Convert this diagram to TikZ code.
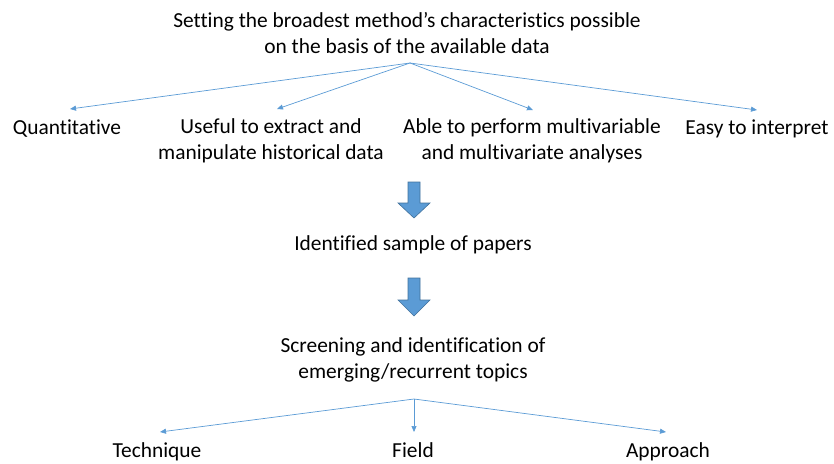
\documentclass[tikz,border=0pt]{standalone}
\usepackage{fontspec}
\setmainfont[Ligatures=NoCommon]{Carlito}
\usetikzlibrary{arrows.meta}
\definecolor{linkblue}{HTML}{5B9BD5}
\definecolor{blockedge}{HTML}{41719C}
\tikzset{
  lbl/.style={inner sep=0pt, align=center, font=\fontsize{21.4}{26}\selectfont},
  oneline/.style={lbl, text height=14.5pt, text depth=4.5pt},
  link/.style={draw=linkblue, line width=0.7pt, -{Triangle[length=6pt,width=5pt]}},
  blockarrow/.style={fill=linkblue, draw=blockedge, line width=0.6pt, line join=miter}
}
\begin{document}
\begin{tikzpicture}[x=1pt,y=-1pt]
\useasboundingbox (0,0) rectangle (834,463);

% top level statement
\node[lbl] (top) at (407,33) {Setting the broadest method’s characteristics possible\\on the basis of the available data};
\coordinate (topsrc) at (410,63);

% required characteristics
\node[oneline] (quant) at (67,129) {Quantitative};
\node[lbl] (useful) at (271,141) {Useful to extract and\\manipulate historical data};
\node[lbl] (able) at (532,141) {Able to perform multivariable\\and multivariate analyses};
\node[oneline] (easy) at (757,129) {Easy to interpret};

\coordinate (tq) at (70,109);
\coordinate (tu) at (277,109);
\coordinate (ta) at (533,110);
\coordinate (te) at (757,110);

\draw[link] (topsrc) -- (tq);
\draw[link] (topsrc) -- (tu);
\draw[link] (topsrc) -- (ta);
\draw[link] (topsrc) -- (te);

% block arrows
\draw[blockarrow] (408,182) -- (420,182) -- (420,203) -- (430,203) -- (414,218) -- (398,203) -- (408,203) -- cycle;
\node[oneline] (sample) at (413,245) {Identified sample of papers};
\draw[blockarrow] (408,278) -- (420,278) -- (420,300) -- (430,300) -- (414,316) -- (398,300) -- (408,300) -- cycle;

% screening
\node[lbl] (screen) at (413,360) {Screening and identification of\\emerging/recurrent topics};
\coordinate (scrsrc) at (414,399);

\node[oneline] (tech) at (157,452) {Technique};
\node[oneline] (field) at (413,452) {Field};
\node[oneline] (appr) at (668,452) {Approach};

\coordinate (tt) at (160,432);
\coordinate (tf) at (414,432);
\coordinate (tp) at (666,432);

\draw[link] (scrsrc) -- (tt);
\draw[link] (scrsrc) -- (tf);
\draw[link] (scrsrc) -- (tp);
\end{tikzpicture}
\end{document}
